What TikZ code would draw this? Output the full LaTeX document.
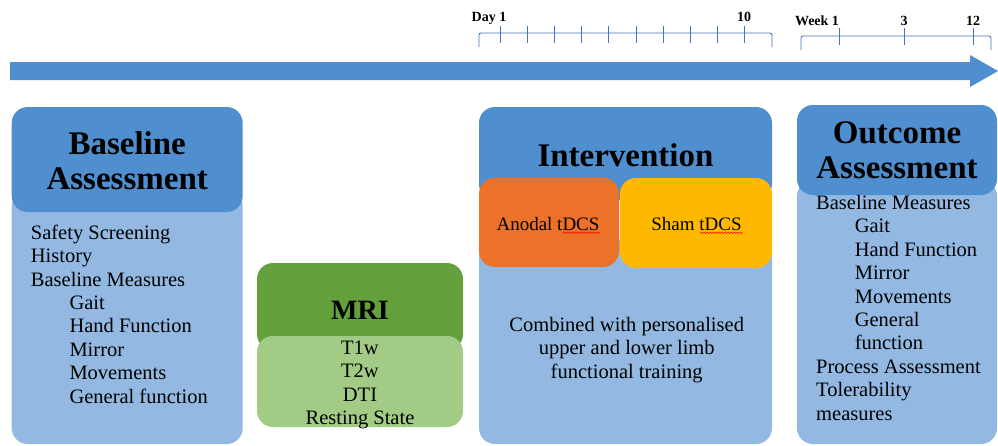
\documentclass[tikz,border=0pt]{standalone}
\usepackage{fontspec}
\setmainfont{Liberation Serif}
\usetikzlibrary{decorations.pathmorphing}

\definecolor{headblue}{HTML}{4F8FCF}
\definecolor{bodyblue}{HTML}{93B9E2}
\definecolor{tickblue}{HTML}{4472C4}
\definecolor{mridark}{HTML}{64A03C}
\definecolor{mrilight}{HTML}{A2CB86}
\definecolor{anodalor}{HTML}{EC7229}
\definecolor{shamyel}{HTML}{FFB800}

\tikzset{
  panel/.style={rounded corners=16pt, inner sep=0pt, draw=none},
  title/.style={inner sep=0pt, align=center, font=\fontsize{33}{35}\selectfont\bfseries},
  items/.style={inner sep=0pt, font=\fontsize{20.5}{23.4}\selectfont},
  scaleline/.style={tickblue, line width=0.9pt},
  daylabel/.style={inner sep=0pt, anchor=base, font=\fontsize{14}{16}\selectfont\bfseries},
  squiggle/.style={red, line width=0.5pt, decorate, decoration={snake, amplitude=0.8pt, segment length=3pt}}
}
\newcommand{\ind}{\hspace*{38.6pt}}

\begin{document}
\begin{tikzpicture}[x=1pt, y=-1pt]

  %% ════ time arrow ════
  \fill[headblue] (10,62) -- (970,62) -- (970,55) -- (998,71) -- (970,87) -- (970,80) -- (10,80) -- cycle;

  %% ════ day / week scales ════
  \draw[scaleline, rounded corners=2pt] (479,47) -- (479,33) -- (772,33) -- (772,47);
  \foreach \x in {500,527.2,554.4,581.6,608.8,636,663.2,690.4,717.6,744.8}
    \draw[scaleline] (\x,26) -- (\x,43);
  \node[daylabel] (day1) at (489,21) {Day 1};
  \node[daylabel] (day10) at (744,21) {10};

  \draw[scaleline, rounded corners=2pt] (801,50) -- (801,36) -- (991,36) -- (991,50);
  \foreach \x in {839,904,973}
    \draw[scaleline] (\x,28) -- (\x,45);
  \node[daylabel] (week1) at (817,25) {Week 1};
  \node[daylabel] (week3) at (904,25) {3};
  \node[daylabel] (week12) at (973,25) {12};

  %% ════ panels (bodies first, headers on top) ════
  \node[panel, fill=bodyblue, minimum width=231pt, minimum height=254pt] (basebody) at (127.2,317) {};
  \node[panel, fill=headblue, minimum width=231pt, minimum height=105pt] (basehead) at (127.2,159.5) {};

  \node[panel, fill=mridark, minimum width=206pt, minimum height=87pt] (mrihead) at (360,306.5) {};
  \node[panel, fill=mrilight, minimum width=206pt, minimum height=91pt] (mribody) at (360,381.5) {};

  \node[panel, fill=bodyblue, minimum width=293pt, minimum height=204pt] (intbody) at (625.5,342) {};
  \node[panel, fill=headblue, minimum width=293pt, minimum height=93pt] (inthead) at (625.5,153.5) {};
  \node[panel, fill=anodalor, minimum width=140pt, minimum height=89pt] (anodal) at (549,222.5) {};
  \node[panel, fill=shamyel, minimum width=152pt, minimum height=90pt] (sham) at (696,223) {};

  \node[panel, fill=bodyblue, minimum width=200pt, minimum height=264pt] (outbody) at (897,312) {};
  \node[panel, fill=headblue, minimum width=200pt, minimum height=90pt] (outhead) at (897,150) {};

  %% ════ titles ════
  \node[title] (basetitle) at (127.2,160.5) {Baseline\\Assessment};
  \node[title, font=\fontsize{28}{32}\selectfont\bfseries] (mrititle) at (360,310) {MRI};
  \node[title] (inttitle) at (625.5,155) {Intervention};
  \node[title] (outtitle) at (897,150.5) {Outcome\\Assessment};

  %% ════ texts (base = last line) ════
  \node[items, align=left, anchor=base west] (baselist) at (30.7,403.1) {Safety Screening\\History\\Baseline Measures\\\ind Gait\\\ind Hand Function\\\ind Mirror\\\ind Movements\\\ind General function};
  \node[items, align=center, anchor=base] (mrilist) at (360,424.5) {T1w\\T2w\\DTI\\Resting State};
  \node[items, font=\fontsize{19}{23}\selectfont] (anodaltext) at (548,224) {Anodal tDCS};
  \node[items, font=\fontsize{19}{23}\selectfont] (shamtext) at (696.5,224) {Sham tDCS};
  \node[items, align=center, anchor=base] (combined) at (626.7,378.3) {Combined with personalised\\upper and lower limb\\functional training};
  \node[items, align=left, anchor=base west] (outlist) at (816,420.1) {Baseline Measures\\\ind Gait\\\ind Hand Function\\\ind Mirror\\\ind Movements\\\ind General\\\ind function\\Process Assessment\\Tolerability\\measures};

  %% ════ spell-check marks ════
  \draw[squiggle] (562.7,232.7) -- (600,232.7);
  \draw[squiggle] (700,232.7) -- (742.7,232.7);

  \pgfresetboundingbox
  \path[use as bounding box] (0,0) rectangle (998,445);
\end{tikzpicture}
\end{document}
